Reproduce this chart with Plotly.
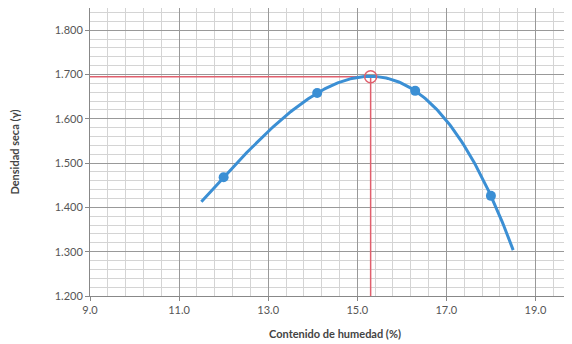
import numpy as np
import plotly.graph_objects as go

# ensayo Proctor: humedad (%) vs densidad seca
humedad = [12.0, 14.1, 16.3, 18.0]
densidad = [1.468, 1.658, 1.663, 1.426]

# tramo dibujado de la linea de tendencia (polinomica orden 3)
curva_x_min = 11.5
curva_x_max = 18.5

# optimo
hum_optima = 15.3
dens_max = 1.695

coef = np.polyfit(humedad, densidad, 3)
xs = np.linspace(curva_x_min, curva_x_max, 200)
ys = np.polyval(coef, xs)

azul = "#3b8fd4"
rojo = "#e0606e"

fig = go.Figure()

# lineas rojas del optimo
fig.add_trace(go.Scatter(x=[9.0, hum_optima, hum_optima], y=[dens_max, dens_max, 1.2],
                         mode="lines", line=dict(color=rojo, width=1.5), hoverinfo="skip"))

fig.add_trace(go.Scatter(x=xs, y=ys, mode="lines", line=dict(color=azul, width=3)))
fig.add_trace(go.Scatter(x=humedad, y=densidad, mode="markers",
                         marker=dict(color=azul, size=10)))
fig.add_trace(go.Scatter(x=[hum_optima], y=[dens_max], mode="markers",
                         marker=dict(symbol="circle-open", color=rojo, size=12, line=dict(width=1.5))))

# la pagina tiene 8px de margen en el body, se compensa aqui
fig.update_layout(
    width=572, height=344,
    margin=dict(l=82, r=0, t=0, b=56),
    showlegend=False,
    plot_bgcolor="white", paper_bgcolor="white",
    font=dict(family="Lato, Open Sans, sans-serif", size=11, color="#555"),
)
fig.update_xaxes(
    range=[9.0, 20.0], tick0=9.0, dtick=2, tickformat=".1f",
    showgrid=True, gridcolor="#999", gridwidth=1,
    minor=dict(dtick=0.4, tick0=9.0, showgrid=True, gridcolor="#d4d4d4"),
    ticks="outside", ticklen=4, tickcolor="#888",
    showline=True, linecolor="#888", mirror=True, zeroline=False, automargin=False,
    title=dict(text="<b>Contenido de humedad (%)</b>", font=dict(size=11, color="#444"), standoff=15),
)
fig.update_yaxes(
    range=[1.2, 1.85], tick0=1.2, dtick=0.1, tickformat=".3f",
    showgrid=True, gridcolor="#999", gridwidth=1,
    minor=dict(dtick=0.02, tick0=1.2, showgrid=True, gridcolor="#d4d4d4"),
    ticks="outside", ticklen=4, tickcolor="#888",
    showline=True, linecolor="#888", zeroline=False, automargin=False,
    title=dict(text="<b>Densidad seca (γ)</b>", font=dict(size=11, color="#444"), standoff=37),
)

fig.write_html("out.html")
